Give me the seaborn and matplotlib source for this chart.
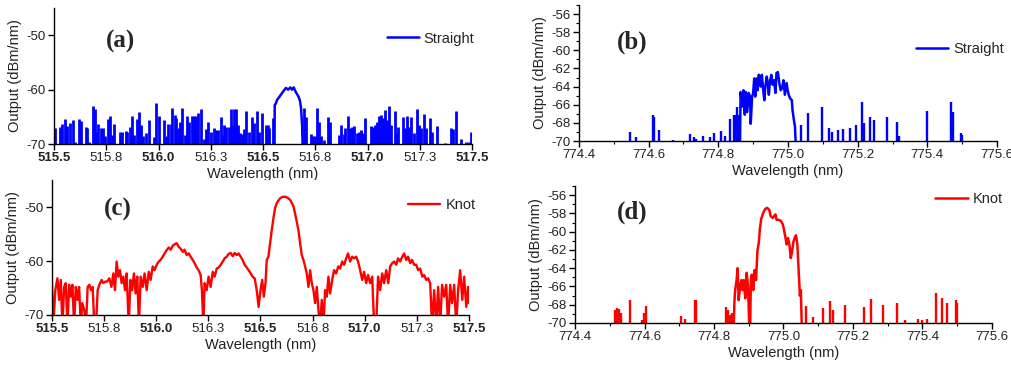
import numpy as np
import pandas as pd
import matplotlib
matplotlib.use("Agg")
import matplotlib.pyplot as plt
import seaborn as sns
from matplotlib.ticker import MultipleLocator

# ── Data ──────────────────────────────────────────────────────
FLOOR = -71.0   # below the -70 axis floor, clipped

# (a) straight fibre, ~516.6 nm: noise spikes + central hump
a_spike_x = [515.503, 515.530, 515.538, 515.551, 515.562, 515.578, 515.591, 515.602, 515.621, 515.631,
             515.652, 515.659, 515.666, 515.687, 515.695, 515.703, 515.711, 515.723, 515.734, 515.746,
             515.758, 515.770, 515.778, 515.789, 515.817, 515.825, 515.844, 515.851, 515.864, 515.875,
             515.884, 515.899, 515.908, 515.918, 515.927, 515.942, 515.955, 515.978, 515.990, 516.004,
             516.026, 516.034, 516.045, 516.058, 516.066, 516.077, 516.084, 516.093, 516.103, 516.114,
             516.125, 516.136, 516.148, 516.160, 516.170, 516.181, 516.191, 516.202, 516.218, 516.227,
             516.237, 516.253, 516.266, 516.275, 516.286, 516.297, 516.307, 516.315, 516.325, 516.336,
             516.347, 516.355, 516.363, 516.372, 516.380, 516.390, 516.400, 516.411, 516.420, 516.431,
             516.447, 516.457, 516.470, 516.479, 516.495, 516.514, 516.524, 516.530, 516.548,
             516.696, 516.704, 516.728, 516.738, 516.750, 516.760, 516.768, 516.779, 516.790, 516.809,
             516.819, 516.865, 516.875, 516.888, 516.894, 516.907, 516.916, 516.926, 516.935, 516.948,
             516.958, 516.970, 516.980, 516.990, 517.018, 517.028, 517.037, 517.047, 517.057, 517.066,
             517.076, 517.085, 517.095, 517.104, 517.114, 517.130, 517.138, 517.148, 517.168, 517.178,
             517.191, 517.200, 517.210, 517.222, 517.238, 517.248, 517.258, 517.270, 517.280, 517.299,
             517.309, 517.331, 517.369, 517.398, 517.408, 517.423, 517.449, 517.471, 517.487, 517.497]
a_spike_y = [-67.1, -66.8, -66.4, -65.4, -66.6, -66.2, -65.6, -69.6, -65.4, -65.7,
             -66.9, -67.1, -69.6, -63.1, -63.6, -67.7, -66.3, -67.1, -67.1, -68.6,
             -65.4, -64.9, -68.3, -66.4, -67.7, -67.8, -67.6, -67.7, -66.8, -64.9,
             -68.3, -65.4, -64.2, -66.5, -68.5, -68.0, -65.6, -68.8, -62.5, -64.9,
             -65.6, -68.5, -66.4, -66.4, -63.3, -64.6, -65.2, -67.1, -65.9, -63.4,
             -68.3, -64.9, -65.9, -64.9, -64.9, -64.8, -64.3, -63.5, -69.0, -67.2,
             -65.9, -67.8, -67.1, -67.4, -67.4, -65.1, -68.3, -66.5, -66.8, -66.8,
             -63.6, -66.5, -63.6, -63.6, -66.5, -68.0, -68.2, -67.2, -63.9, -67.7,
             -65.1, -66.2, -64.0, -67.7, -64.3, -66.5, -66.5, -67.0, -65.2,
             -63.4, -65.1, -68.2, -68.6, -68.5, -63.4, -65.9, -68.6, -69.3, -65.1,
             -65.9, -68.3, -66.5, -68.2, -67.1, -64.9, -67.1, -66.8, -66.6, -68.0,
             -67.8, -67.4, -68.0, -65.2, -66.6, -66.8, -66.5, -65.9, -64.8, -64.6,
             -65.2, -63.7, -65.6, -63.1, -66.5, -64.0, -68.0, -66.8, -65.1, -67.1,
             -64.9, -66.8, -65.1, -68.0, -63.6, -66.5, -67.1, -64.5, -67.0, -65.2,
             -67.7, -66.6, -69.8, -67.1, -67.2, -64.0, -69.0, -69.6, -69.6, -67.7]
a_hump_x = [516.555, 516.556, 516.561, 516.567, 516.575, 516.588, 516.599, 516.610, 516.620, 516.631,
            516.639, 516.647, 516.655, 516.664, 516.671, 516.677, 516.682, 516.687, 516.690]
a_hump_y = [FLOOR, -62.8, -62.6, -61.9, -61.5, -60.8, -60.2, -59.7, -60.0, -59.6,
            -60.0, -59.6, -60.3, -60.9, -61.4, -62.1, -63.4, -66.5, FLOOR]

# (c) knot, ~516.6 nm: continuous spectrum
c_x = [515.500, 515.506, 515.516, 515.526, 515.534, 515.542, 515.550, 515.558, 515.566, 515.574,
       515.582, 515.590, 515.598, 515.606, 515.614, 515.622, 515.630, 515.638, 515.645, 515.655,
       515.663, 515.671, 515.679, 515.687, 515.695, 515.703, 515.711, 515.719, 515.727, 515.738,
       515.746, 515.756, 515.765, 515.775, 515.785, 515.794, 515.802, 515.810, 515.818, 515.826,
       515.834, 515.842, 515.850, 515.858, 515.868, 515.876, 515.884, 515.893, 515.901, 515.909,
       515.917, 515.925, 515.935, 515.944, 515.954, 515.964, 515.973, 515.983, 515.992, 516.002,
       516.012, 516.021, 516.031, 516.040, 516.050, 516.060, 516.069, 516.079, 516.088, 516.098,
       516.108, 516.117, 516.127, 516.136, 516.146, 516.156, 516.165, 516.175, 516.184, 516.194,
       516.203, 516.213, 516.219, 516.226, 516.232, 516.242, 516.251, 516.261, 516.271, 516.280,
       516.290, 516.299, 516.309, 516.319, 516.328, 516.338, 516.347, 516.357, 516.367, 516.376,
       516.386, 516.395, 516.405, 516.414, 516.424, 516.434, 516.443, 516.453, 516.462, 516.472,
       516.482, 516.491, 516.500, 516.508, 516.516, 516.524, 516.530, 516.538, 516.546, 516.554,
       516.562, 516.570, 516.578, 516.586, 516.594, 516.602, 516.610, 516.618, 516.626, 516.634,
       516.642, 516.650, 516.658, 516.666, 516.674, 516.682, 516.690, 516.698, 516.706, 516.714,
       516.722, 516.730, 516.738, 516.746, 516.754, 516.762, 516.770, 516.778, 516.786, 516.794,
       516.802, 516.810, 516.818, 516.826, 516.834, 516.844, 516.853, 516.863, 516.873, 516.882,
       516.892, 516.901, 516.911, 516.920, 516.930, 516.940, 516.949, 516.959, 516.968, 516.978,
       516.988, 516.997, 517.007, 517.016, 517.026, 517.036, 517.045, 517.055, 517.064, 517.074,
       517.084, 517.093, 517.103, 517.113, 517.122, 517.132, 517.141, 517.151, 517.160, 517.170,
       517.180, 517.189, 517.199, 517.208, 517.218, 517.227, 517.237, 517.247, 517.256, 517.266,
       517.276, 517.285, 517.295, 517.304, 517.314, 517.323, 517.333, 517.343, 517.352, 517.362,
       517.371, 517.381, 517.391, 517.400, 517.410, 517.419, 517.429, 517.439, 517.448, 517.458,
       517.468, 517.477, 517.487, 517.496, 517.500]
c_y = [-64.1, -72.0, -65.4, -63.2, -67.2, -63.5, -72.0, -64.8, -64.1, -72.0,
       -64.4, -66.6, -64.4, -72.0, -64.8, -67.2, -64.8, -72.0, -67.8, -69.1,
       -72.0, -64.8, -64.4, -65.4, -64.8, -72.0, -72.0, -65.4, -64.4, -63.5,
       -64.1, -63.8, -63.8, -63.2, -64.8, -62.3, -65.4, -60.1, -62.9, -61.7,
       -64.1, -62.9, -65.4, -62.3, -72.0, -63.5, -65.4, -62.3, -66.0, -62.9,
       -72.0, -62.9, -64.8, -62.3, -65.4, -62.0, -63.5, -61.0, -61.7, -60.7,
       -60.1, -59.8, -59.2, -58.6, -58.0, -57.5, -57.9, -57.2, -56.9, -56.7,
       -57.4, -57.7, -58.3, -57.9, -58.9, -58.6, -59.2, -59.8, -60.4, -61.2,
       -61.7, -62.6, -65.4, -72.0, -64.1, -65.4, -62.9, -64.8, -62.0, -62.9,
       -61.4, -61.2, -60.7, -60.1, -59.5, -59.2, -58.7, -58.5, -59.1, -58.5,
       -58.9, -58.6, -59.2, -59.8, -60.7, -61.2, -61.7, -62.3, -62.9, -63.2,
       -65.4, -68.5, -65.4, -63.5, -66.6, -64.1, -59.8, -59.2, -56.7, -54.3,
       -52.1, -50.2, -49.3, -48.8, -48.4, -48.2, -48.1, -48.1, -48.2, -48.4,
       -48.7, -49.2, -49.9, -51.2, -52.7, -54.3, -56.7, -58.9, -59.8, -61.0,
       -62.3, -64.8, -61.7, -64.1, -65.4, -67.8, -64.8, -69.1, -72.0, -67.2,
       -72.0, -65.4, -66.6, -62.9, -66.0, -63.5, -61.7, -62.3, -61.0, -61.4,
       -60.1, -60.7, -59.5, -58.6, -60.1, -59.2, -59.5, -59.2, -60.1, -61.7,
       -63.5, -62.0, -64.1, -62.6, -64.1, -62.9, -72.0, -72.0, -62.9, -65.4,
       -62.3, -64.1, -61.7, -64.1, -61.0, -60.4, -60.1, -60.7, -59.5, -60.1,
       -59.2, -58.6, -59.8, -59.2, -60.4, -59.8, -60.7, -60.7, -61.7, -61.4,
       -62.9, -62.6, -63.5, -63.2, -64.1, -72.0, -65.4, -72.0, -64.8, -72.0,
       -64.4, -66.6, -64.4, -72.0, -64.4, -67.8, -64.4, -72.0, -65.4, -61.7,
       -67.2, -62.9, -68.5, -64.8, -67.8]

# (b) straight fibre, ~775 nm
b_spike_x = [774.546, 774.564, 774.613, 774.616, 774.631, 774.669, 774.719, 774.730, 774.736, 774.757,
             774.776, 774.789, 774.807, 774.819, 774.833, 774.846, 774.851, 774.855, 774.860,
             775.037, 775.056, 775.097, 775.119, 775.126, 775.143, 775.159, 775.177, 775.196, 775.213,
             775.219, 775.234, 775.248, 775.283, 775.312, 775.319, 775.398, 775.467, 775.473, 775.496,
             775.500]
b_spike_y = [-69.0, -69.6, -67.1, -67.3, -68.8, -69.9, -69.2, -69.6, -69.8, -69.4,
             -69.6, -69.1, -68.9, -69.5, -67.6, -67.1, -67.1, -66.2, -67.1,
             -68.2, -66.9, -66.2, -68.6, -69.0, -68.8, -68.7, -68.6, -68.2, -65.7,
             -68.0, -67.4, -67.7, -67.3, -67.9, -69.5, -66.7, -65.7, -66.8, -69.1,
             -69.3]
b_hump_x = [774.862, 774.864, 774.868, 774.872, 774.876, 774.879, 774.883, 774.887, 774.891, 774.893,
            774.897, 774.900, 774.903, 774.906, 774.910, 774.913, 774.916, 774.920, 774.922, 774.925,
            774.929, 774.932, 774.935, 774.939, 774.942, 774.945, 774.948, 774.952, 774.956, 774.960,
            774.964, 774.967, 774.971, 774.975, 774.979, 774.983, 774.987, 774.991, 774.996, 774.999,
            775.002, 775.006, 775.011, 775.013, 775.017, 775.020, 775.023]
b_hump_y = [FLOOR, -64.6, -66.2, -64.4, -67.1, -64.6, -66.8, -64.7, -65.1, -68.1,
            -65.1, -64.7, -63.1, -65.1, -63.1, -64.4, -62.7, -63.1, -64.0, -62.7,
            -64.4, -65.5, -64.0, -62.9, -63.6, -64.9, -63.5, -62.7, -63.8, -63.3,
            -64.7, -62.5, -62.4, -63.6, -64.4, -64.2, -63.3, -64.9, -63.6, -64.4,
            -64.9, -65.3, -65.5, -66.6, -67.7, -68.4, FLOOR]

# (d) knot, ~775 nm
d_spike_x = [774.515, 774.520, 774.526, 774.531, 774.558, 774.592, 774.599, 774.604, 774.705, 774.717,
             774.745, 774.748, 774.834, 774.839, 774.845, 774.851,
             775.065, 775.086, 775.115, 775.134, 775.143, 775.177, 775.233, 775.252, 775.287, 775.326,
             775.350, 775.388, 775.400, 775.412, 775.439, 775.455, 775.470, 775.496, 775.500]
d_spike_y = [-68.6, -68.4, -68.5, -68.9, -67.5, -69.7, -68.9, -68.1, -69.2, -69.6,
             -67.5, -67.5, -68.2, -68.6, -69.1, -68.9,
             -68.1, -69.3, -68.4, -67.6, -68.6, -68.0, -68.2, -67.4, -68.0, -67.8,
             -69.7, -69.6, -69.7, -69.6, -66.7, -67.3, -67.8, -67.5, -67.8]
d_hump_x = [774.856, 774.859, 774.861, 774.865, 774.868, 774.871, 774.875, 774.879, 774.882, 774.886,
            774.890, 774.894, 774.898, 774.902, 774.904, 774.906, 774.909, 774.913, 774.917, 774.921,
            774.925, 774.929, 774.932, 774.936, 774.942, 774.948, 774.953, 774.959, 774.963, 774.969,
            774.977, 774.980, 774.986, 774.992, 774.998, 775.001, 775.005, 775.009, 775.013, 775.017,
            775.021, 775.025, 775.028, 775.032, 775.036, 775.040, 775.043, 775.046, 775.047, 775.050,
            775.053]
d_hump_y = [FLOOR, -67.5, -66.4, -65.3, -64.0, -67.5, -66.0, -65.3, -66.4, -65.3,
            -67.3, -64.5, -66.0, FLOOR, FLOOR, -65.3, -64.7, -66.4, -64.2, -65.3,
            -62.1, -61.2, -59.7, -58.6, -57.9, -57.5, -57.4, -57.6, -58.3, -58.5,
            -58.1, -58.7, -58.7, -58.8, -59.2, -59.7, -60.5, -61.4, -60.7, -61.4,
            -62.9, -62.1, -61.2, -60.7, -60.4, -61.4, -63.8, -66.0, -67.0, -66.4,
            FLOOR]

# tick labels for the 516 nm panels (as printed in the figure)
ac_ticks = [515.5, 515.75, 516.0, 516.25, 516.5, 516.75, 517.0, 517.25, 517.5]
ac_tick_labels = ["515.5", "515.8", "516.0", "516.3", "516.5", "516.8", "517.0", "517.3", "517.5"]

BLUE = "#0000FF"
RED = "#FF0000"

# ── Style ─────────────────────────────────────────────────────
sns.set_theme(style="ticks")
plt.rcParams["font.family"] = ["Liberation Sans", "DejaVu Sans"]
plt.rcParams["axes.linewidth"] = 1.0
plt.rcParams["axes.unicode_minus"] = False

fig = plt.figure(figsize=(10.12, 3.67), dpi=100)
ax_a = fig.add_axes([0.0534, 0.6076, 0.4130, 0.3705])
ax_b = fig.add_axes([0.5721, 0.6158, 0.4131, 0.3706])
ax_c = fig.add_axes([0.0514, 0.1417, 0.4120, 0.3678])
ax_d = fig.add_axes([0.5682, 0.1199, 0.4120, 0.3733])


def style_axes(ax):
    sns.despine(ax=ax)
    ax.spines["left"].set_color("black")
    ax.spines["bottom"].set_color("black")
    ax.tick_params(direction="out", length=4, width=1, colors="black",
                   labelsize=9.5, labelcolor="#222222", pad=2)
    ax.tick_params(which="minor", direction="out", length=2.5, width=0.8, colors="black")
    ax.set_xlabel("Wavelength (nm)", fontsize=10.5, color="#222222", labelpad=2)
    ax.set_ylabel("Output (dBm/nm)", fontsize=10.5, color="#222222", labelpad=3)


def spiky_panel(ax, sx, sy, hx, hy, color, label, lw=1.7):
    ax.vlines(sx, FLOOR, sy, color=color, lw=lw)
    hump = pd.DataFrame({"wl": hx, "p": hy})
    sns.lineplot(data=hump, x="wl", y="p", ax=ax, color=color, lw=1.8,
                 sort=False, estimator=None, label=label)


def legend(ax, anchor):
    ax.legend(loc="upper right", bbox_to_anchor=anchor, frameon=False,
              fontsize=10.5, handlelength=2.2, handletextpad=0.35, borderaxespad=0)


def ac_axes(ax):
    ax.set_xlim(515.5, 517.5)
    ax.set_ylim(-70, -45)
    ax.set_yticks([-70, -60, -50])
    ax.set_xticks(ac_ticks)
    ax.set_xticklabels(ac_tick_labels)
    for i, t in enumerate(ax.get_xticklabels()):
        if i % 2 == 0:
            t.set_fontweight("bold")
            t.set_color("black")
        else:
            t.set_color("#555555")


def bd_axes(ax):
    ax.set_xlim(774.4, 775.6)
    ax.set_ylim(-70, -55)
    ax.xaxis.set_major_locator(MultipleLocator(0.2))
    ax.xaxis.set_minor_locator(MultipleLocator(0.1))
    ax.yaxis.set_minor_locator(MultipleLocator(1))
    ax.set_yticks(np.arange(-70, -55, 2))
    ax.xaxis.set_major_formatter(matplotlib.ticker.FormatStrFormatter("%.1f"))


# ── (a) ───────────────────────────────────────────────────────
spiky_panel(ax_a, a_spike_x, a_spike_y, a_hump_x, a_hump_y, BLUE, "Straight", lw=2.0)
ac_axes(ax_a)
style_axes(ax_a)
legend(ax_a, (1.02, 0.87))

# ── (b) ───────────────────────────────────────────────────────
spiky_panel(ax_b, b_spike_x, b_spike_y, b_hump_x, b_hump_y, BLUE, "Straight")
bd_axes(ax_b)
style_axes(ax_b)
legend(ax_b, (1.03, 0.77))

# ── (c) ───────────────────────────────────────────────────────
knot = pd.DataFrame({"wl": c_x, "p": c_y})
sns.lineplot(data=knot, x="wl", y="p", ax=ax_c, color=RED, lw=1.7,
             sort=False, estimator=None, label="Knot")
ac_axes(ax_c)
style_axes(ax_c)
legend(ax_c, (1.03, 0.91))

# ── (d) ───────────────────────────────────────────────────────
spiky_panel(ax_d, d_spike_x, d_spike_y, d_hump_x, d_hump_y, RED, "Knot")
bd_axes(ax_d)
style_axes(ax_d)
legend(ax_d, (1.04, 1.0))

# panel letters
for ax, txt, pos in [(ax_a, "(a)", (0.158, 0.757)), (ax_b, "(b)", (0.127, 0.728)),
                     (ax_c, "(c)", (0.158, 0.785)), (ax_d, "(d)", (0.137, 0.81))]:
    ax.text(*pos, txt, transform=ax.transAxes, ha="center", va="center",
            fontsize=18, fontweight="bold", family=["Liberation Serif", "DejaVu Serif"])

fig.savefig("out.png", dpi=100)
